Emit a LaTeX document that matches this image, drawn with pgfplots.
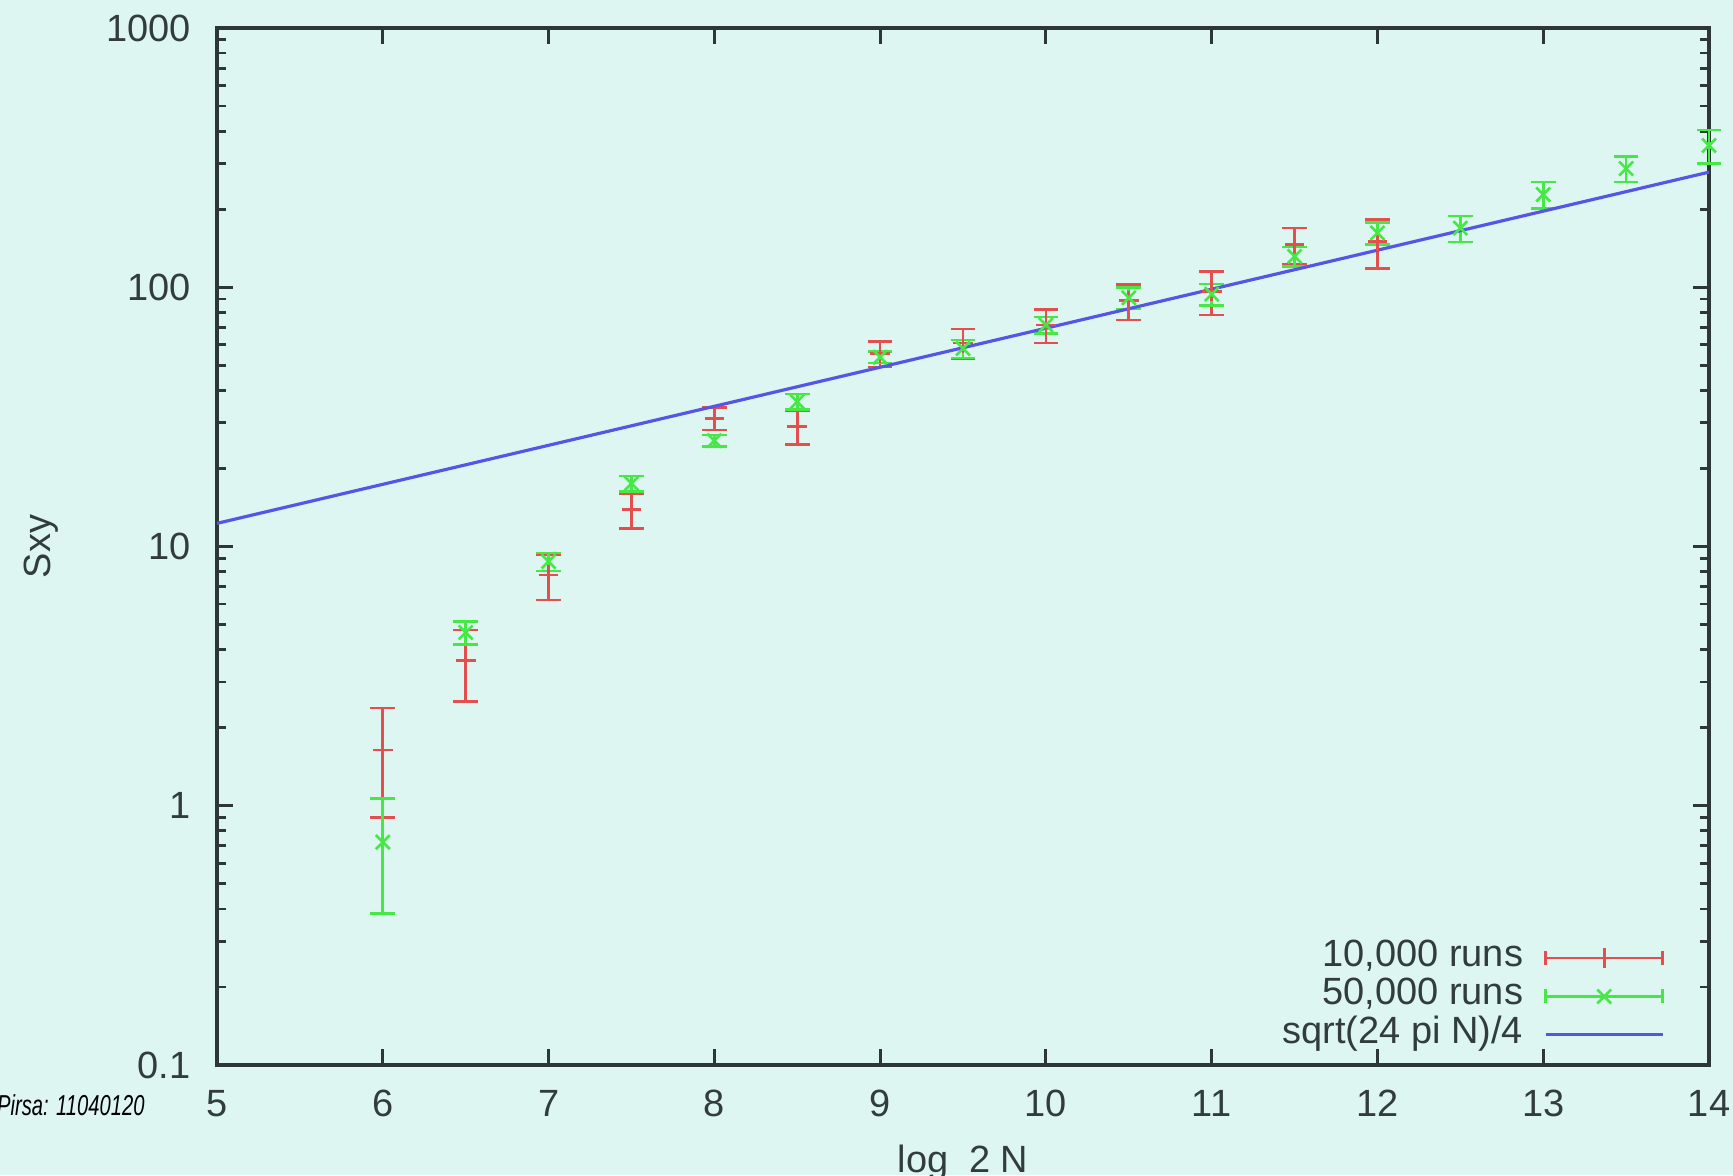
\documentclass[border=0pt]{standalone}
\usepackage{fontspec}
\setmainfont{Liberation Sans}
\usepackage{pgfplots}
\pgfplotsset{compat=1.18}
\definecolor{bgc}{RGB}{221,246,242}
\definecolor{axc}{RGB}{45,55,55}
\definecolor{txc}{RGB}{50,60,60}
\definecolor{redc}{RGB}{228,78,78}
\definecolor{greenc}{RGB}{70,232,70}
\definecolor{bluec}{RGB}{85,85,230}

\pgfplotstableread{
x y e
6 1.64 0.74
6.5 3.64 1.12
7 7.77 1.55
7.5 13.9 2.15
8 31.2 3.1
8.5 29.0 4.3
9 55.5 6.3
9.5 61 8
10 71.5 10.5
10.5 88.7 14
11 96.5 18.3
11.5 146 23
12 150 32
}\redtab

\pgfplotstableread{
x y e
6 0.724 0.34
6.5 4.66 0.48
7 8.75 0.7
7.5 17.5 1.2
8 25.6 1.3
8.5 36.2 2.5
9 53.7 2.7
9.5 58 4.6
10 71.5 5.2
10.5 91 8.5
11 94 9
11.5 131.5 11.5
12 162 15.5
12.5 169 19.5
13 228 27
13.5 287 32
14 352 52
}\greentab

\begin{document}
\begin{tikzpicture}
\fill[bgc] (0,0) rectangle (17.33,11.75);
\path[use as bounding box] (0,0) rectangle (17.33,11.75);
\clip (0,0) rectangle (17.33,11.75);
\node[anchor=base east, inner sep=0pt, xscale=0.70, font=\fontsize{8.2}{9}\selectfont\itshape] at (1.45,0.60) {Pirsa: 11040120};
\begin{axis}[
  at={(2.17cm,1.10cm)}, anchor=south west,
  scale only axis, width=14.92cm, height=10.37cm,
  xmin=5, xmax=14, ymode=log, ymin=0.1, ymax=1000,
  xtick={5,6,7,8,9,10,11,12,13,14},
  ytick={0.1,1,10,100,1000}, yticklabels={0.1,1,10,100,1000},
  axis line style={axc, line width=0.9pt},
  tick style={axc, line width=0.8pt},
  major tick length=0.16cm, minor tick length=0.09cm,
  tick align=inside, tick pos=both,
  ticklabel style={font=\fontsize{10.8}{13}\selectfont, text=txc},
  /pgf/number format/assume math mode=true,
  xticklabel style={yshift=-0.13cm},
  yticklabel style={xshift=-0.14cm},
  xlabel={log\hspace{0.55em}2 N}, ylabel={Sxy},
  label style={font=\fontsize{10.8}{13}\selectfont, text=txc},
  xlabel style={at={(axis description cs:0.5,-0.1032)}, anchor=base},
  ylabel style={at={(axis description cs:-0.1113,0.5)}, anchor=base},
  clip=false,
  legend cell align=right,
  legend plot pos=right,
  legend style={draw=none, fill=none, inner sep=0pt, column sep=0.21cm,
    at={(axis description cs:0.9705,0.010)}, anchor=south east,
    font=\fontsize{10.8}{13}\selectfont, text=txc,
    nodes={inner sep=0pt, text height=7.8pt, text depth=3.1pt}},
]
\addplot[redc, only marks, mark=+, mark size=2.8pt, line width=0.75pt,
  legend image code/.code={
    \draw[redc, line width=0.75pt] (0cm,0cm) -- (1.17cm,0cm);
    \draw[redc, line width=0.75pt] (0cm,-0.07cm) -- (0cm,0.07cm);
    \draw[redc, line width=0.75pt] (1.17cm,-0.07cm) -- (1.17cm,0.07cm);
    \draw[redc, line width=0.75pt, mark=+, mark size=2.8pt, only marks] plot coordinates {(0.585cm,0cm)};
  },
  error bars/.cd, y dir=both, y explicit,
  error bar style={line width=0.75pt},
  error mark options={rotate=90, redc, mark size=3.5pt, line width=0.75pt}]
  table[x=x, y=y, y error=e] {\redtab};
\addlegendentry{10,000 runs}
\addplot[greenc, only marks, mark=x, mark size=2.8pt, line width=0.75pt,
  legend image code/.code={
    \draw[greenc, line width=0.75pt] (0cm,0cm) -- (1.17cm,0cm);
    \draw[greenc, line width=0.75pt] (0cm,-0.07cm) -- (0cm,0.07cm);
    \draw[greenc, line width=0.75pt] (1.17cm,-0.07cm) -- (1.17cm,0.07cm);
    \draw[greenc, line width=0.75pt, mark=x, mark size=2.8pt, only marks] plot coordinates {(0.585cm,0cm)};
  },
  error bars/.cd, y dir=both, y explicit,
  error bar style={line width=0.75pt},
  error mark options={rotate=90, greenc, mark size=3.5pt, line width=0.75pt}]
  table[x=x, y=y, y error=e] {\greentab};
\addlegendentry{50,000 runs}
\addplot[bluec, line width=0.9pt,
  legend image code/.code={\draw[bluec, line width=0.9pt] (0cm,0cm) -- (1.17cm,0cm);}]
  coordinates {(5,12.28) (14,277.9)};
\addlegendentry{sqrt(24 pi N)/4}
\end{axis}
\end{tikzpicture}
\end{document}
